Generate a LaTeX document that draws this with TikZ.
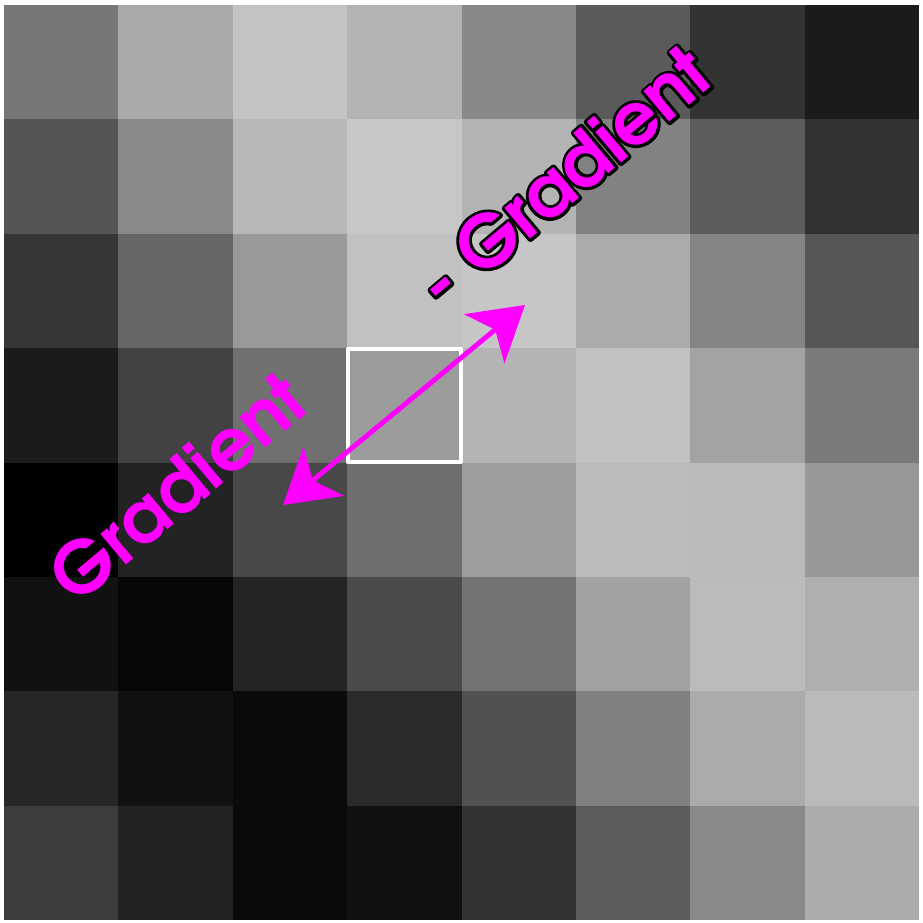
\documentclass[tikz,border=0pt]{standalone}
\usepackage[T1]{fontenc}
\usetikzlibrary{arrows.meta}
\definecolor{mag}{RGB}{255,0,255}
\newcommand{\gothic}{\fontfamily{pag}\fontseries{db}\fontsize{20.5pt}{20.5pt}\selectfont}
\newcommand{\outlined}[1]{\rlap{\special{pdf:literal direct 0 0 0 RG 1.7 w 1 j 1 Tr}#1\special{pdf:literal direct 0 Tr}}#1}
\begin{document}
\begin{tikzpicture}[x=0.01cm,y=-0.01cm,line join=round]
			\tikzset{gradlabel/.style={text=mag,rotate=40,inner sep=0pt,font=\gothic},
				gradarrow/.style={mag,line width=1.4pt,{Stealth[length=15pt,width=18pt,inset=4pt]}-{Stealth[length=15pt,width=18pt,inset=4pt]}}}
			\fill[white] (0,0) rectangle (923,923);
			\foreach \row [count=\r from 0] in {{119,169,195,179,136,90,51,27},{85,137,183,199,180,130,92,50},{54,102,153,193,198,171,132,86},{27,66,112,156,180,193,163,122},{0,35,72,111,158,187,186,152},{17,6,36,74,115,162,187,175},{38,17,10,42,81,128,171,186},{60,34,10,16,50,92,137,172}}
			{
				\foreach \v [count=\c from 0] in \row
				{
					\definecolor{cellc}{RGB}{\v,\v,\v}
					\fill[cellc] ({4+114.4*\c},{5+114.4*\r}) rectangle ++(114.6,114.6);
				}
			}
			\node[draw=white,line width=1.2pt,minimum size=1.13cm,inner sep=0pt] (ctr) at (404.4,405.4) {};
			\coordinate (gtip) at (283,505);
			\coordinate (ntip) at (525,305);
			\draw[gradarrow] (gtip) -- (ntip);
			\node[gradlabel] (grad) at (177,487) {Gradient};
			\node[gradlabel] (neggrad) at (562,177) {\outlined{- Gradient}};
		\end{tikzpicture}
\end{document}
